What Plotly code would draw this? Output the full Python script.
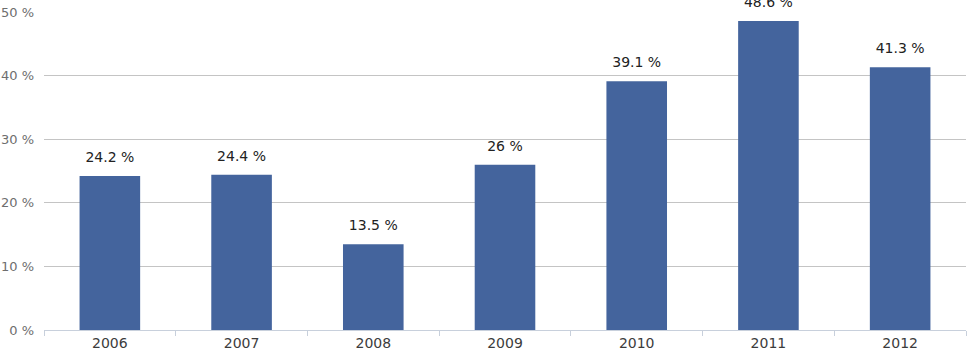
import plotly.graph_objects as go

years = ["2006", "2007", "2008", "2009", "2010", "2011", "2012"]
values = [24.2, 24.4, 13.5, 26, 39.1, 48.6, 41.3]
labels = ["24.2 %", "24.4 %", "13.5 %", "26 %", "39.1 %", "48.6 %", "41.3 %"]
y_ticks = [0, 10, 20, 30, 40, 50]
y_tick_text = ["0 %", "10 %", "20 %", "30 %", "40 %", "50 %"]

bar_color = "#44649d"

fig = go.Figure()
fig.add_trace(go.Bar(x=years, y=values, marker=dict(color=bar_color, line=dict(width=0)),
                     hoverinfo="skip"))
fig.add_trace(go.Scatter(x=years, y=values, mode="text+markers", text=labels,
                         textposition="top center", cliponaxis=False,
                         marker=dict(size=15, opacity=0, color="white"),
                         textfont=dict(family="DejaVu Sans", size=14, color="#222222"),
                         hoverinfo="skip"))

fig.update_layout(
    width=967, height=351,
    margin=dict(l=44, r=1, t=12, b=21, autoexpand=False),
    paper_bgcolor="white", plot_bgcolor="white",
    showlegend=False,
    bargap=0.54,
)
fig.update_yaxes(range=[0, 50], tickmode="array", tickvals=y_ticks, ticktext=y_tick_text,
                 showgrid=True, gridcolor="#c4c4c4", zeroline=False,
                 ticklabelstandoff=9,
                 tickfont=dict(family="DejaVu Sans", size=13, color="#6e6e6e"))
fig.update_xaxes(type="category", range=[-0.5, 6.5], showline=True, linecolor="#c8d0dc",
                 ticks="outside", tickson="boundaries", ticklen=5, tickcolor="#c8d0dc",
                 tickfont=dict(family="DejaVu Sans", size=14, color="#3c3c3c"),
                 tickangle=0, showgrid=False)

fig.write_html("out.html", config={"displayModeBar": False},
               post_script="document.body.style.margin='0px';")
